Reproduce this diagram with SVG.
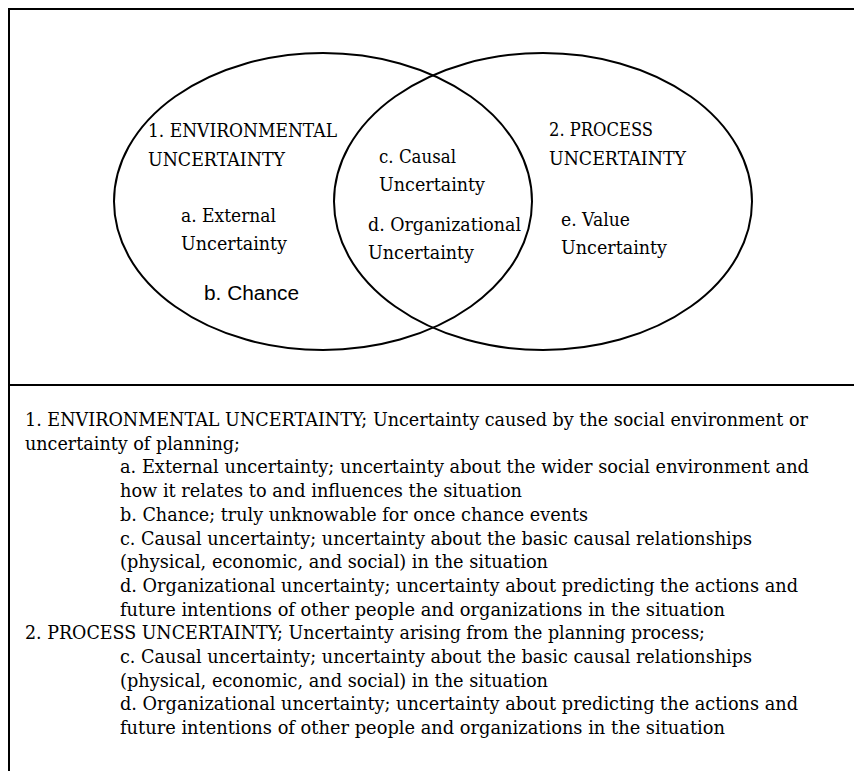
<svg xmlns="http://www.w3.org/2000/svg" width="854" height="771" viewBox="0 0 854 771">
  <style>
    .frame { stroke: #000; stroke-width: 2; fill: none; }
    .set { stroke: #000; stroke-width: 2; fill: none; }
    .lbl { font-family: "DejaVu Serif", "Liberation Serif", serif; font-size: 18.4px; fill: #000; }
    .lbl-sans { font-family: "Liberation Sans", Arial, sans-serif; font-size: 20px; fill: #000; }
    .note { font-family: "DejaVu Serif", "Liberation Serif", serif; font-size: 18px; fill: #000; }
  </style>
  <rect width="854" height="771" fill="#fff"/>

  <!-- table frame: top rule, left rule, divider between diagram and legend -->
  <g id="frame">
    <line class="frame" x1="9" y1="9" x2="854" y2="9"/>
    <line class="frame" x1="9" y1="8" x2="9" y2="771"/>
    <line class="frame" x1="9" y1="385" x2="854" y2="385"/>
  </g>

  <!-- left set: environmental uncertainty -->
  <g id="set-environmental">
    <ellipse class="set" cx="323" cy="201.5" rx="209" ry="148.5"/>
    <text class="lbl" x="148" y="137" textLength="189" lengthAdjust="spacingAndGlyphs">1. ENVIRONMENTAL</text>
    <text class="lbl" x="148" y="166" textLength="137" lengthAdjust="spacingAndGlyphs">UNCERTAINTY</text>
  </g>

  <g id="item-a">
    <text class="lbl" x="181" y="222" textLength="95" lengthAdjust="spacingAndGlyphs">a. External</text>
    <text class="lbl" x="181" y="250" textLength="106" lengthAdjust="spacingAndGlyphs">Uncertainty</text>
  </g>

  <g id="item-b">
    <text class="lbl-sans" x="204" y="300" textLength="95" lengthAdjust="spacingAndGlyphs">b. Chance</text>
  </g>

  <!-- right set: process uncertainty -->
  <g id="set-process">
    <ellipse class="set" cx="543" cy="201.5" rx="209" ry="148.5"/>
    <text class="lbl" x="549" y="136" textLength="104" lengthAdjust="spacingAndGlyphs">2. PROCESS</text>
    <text class="lbl" x="549" y="165" textLength="137" lengthAdjust="spacingAndGlyphs">UNCERTAINTY</text>
  </g>

  <g id="item-e">
    <text class="lbl" x="561" y="226" textLength="69" lengthAdjust="spacingAndGlyphs">e. Value</text>
    <text class="lbl" x="561" y="254" textLength="106" lengthAdjust="spacingAndGlyphs">Uncertainty</text>
  </g>

  <!-- overlap of both sets -->
  <g id="item-c">
    <text class="lbl" x="379" y="163" textLength="77" lengthAdjust="spacingAndGlyphs">c. Causal</text>
    <text class="lbl" x="379" y="191" textLength="106" lengthAdjust="spacingAndGlyphs">Uncertainty</text>
  </g>

  <g id="item-d">
    <text class="lbl" x="368" y="231" textLength="153" lengthAdjust="spacingAndGlyphs">d. Organizational</text>
    <text class="lbl" x="368" y="259" textLength="106" lengthAdjust="spacingAndGlyphs">Uncertainty</text>
  </g>

  <!-- legend -->
  <g id="legend">
    <text class="note" x="25" y="426" textLength="783" lengthAdjust="spacingAndGlyphs">1. ENVIRONMENTAL UNCERTAINTY; Uncertainty caused by the social environment or</text>
    <text class="note" x="25" y="449.7" textLength="215" lengthAdjust="spacingAndGlyphs">uncertainty of planning;</text>
    <text class="note" x="120" y="473.4" textLength="689" lengthAdjust="spacingAndGlyphs">a. External uncertainty; uncertainty about the wider social environment and</text>
    <text class="note" x="120" y="497.1" textLength="402" lengthAdjust="spacingAndGlyphs">how it relates to and influences the situation</text>
    <text class="note" x="120" y="520.8" textLength="468" lengthAdjust="spacingAndGlyphs">b. Chance; truly unknowable for once chance events</text>
    <text class="note" x="120" y="544.5" textLength="632" lengthAdjust="spacingAndGlyphs">c. Causal uncertainty; uncertainty about the basic causal relationships</text>
    <text class="note" x="120" y="568.2" textLength="428" lengthAdjust="spacingAndGlyphs">(physical, economic, and social) in the situation</text>
    <text class="note" x="120" y="591.9" textLength="678" lengthAdjust="spacingAndGlyphs">d. Organizational uncertainty; uncertainty about predicting the actions and</text>
    <text class="note" x="120" y="615.6" textLength="605" lengthAdjust="spacingAndGlyphs">future intentions of other people and organizations in the situation</text>
    <text class="note" x="25" y="639.3" textLength="680" lengthAdjust="spacingAndGlyphs">2. PROCESS UNCERTAINTY; Uncertainty arising from the planning process;</text>
    <text class="note" x="120" y="663" textLength="632" lengthAdjust="spacingAndGlyphs">c. Causal uncertainty; uncertainty about the basic causal relationships</text>
    <text class="note" x="120" y="686.7" textLength="428" lengthAdjust="spacingAndGlyphs">(physical, economic, and social) in the situation</text>
    <text class="note" x="120" y="710.4" textLength="678" lengthAdjust="spacingAndGlyphs">d. Organizational uncertainty; uncertainty about predicting the actions and</text>
    <text class="note" x="120" y="734.1" textLength="605" lengthAdjust="spacingAndGlyphs">future intentions of other people and organizations in the situation</text>
  </g>
</svg>
